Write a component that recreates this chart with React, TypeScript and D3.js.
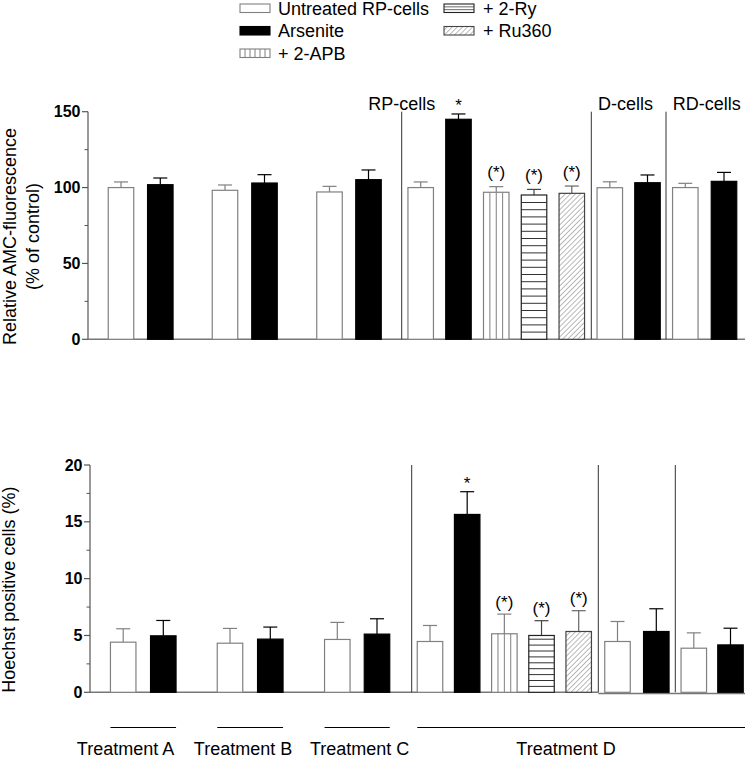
import React from "react";
import * as d3 from "d3";

// ---------- data ----------
const legendLabels = ["Untreated RP-cells", "Arsenite", "+ 2-APB", "+ 2-Ry", "+ Ru360"];
const treatmentKeys = ["untreated", "arsenite", "apb", "ry", "ru360"];
const groupKeys = ["A", "B", "C", "RP", "D", "RD"];
const panelLabels = ["RP-cells", "D-cells", "RD-cells"];
const treatmentLabels = ["Treatment A", "Treatment B", "Treatment C", "Treatment D"];
const treatmentGroups = [["A"], ["B"], ["C"], ["RP", "D", "RD"]];

const barGroups = ["A", "A", "B", "B", "C", "C", "RP", "RP", "RP", "RP", "RP", "D", "D", "RD", "RD"];
const barTreatments = [
  "untreated", "arsenite", "untreated", "arsenite", "untreated", "arsenite",
  "untreated", "arsenite", "apb", "ry", "ru360", "untreated", "arsenite", "untreated", "arsenite",
];
const amcMean = [100, 101.9, 98.2, 103, 97.1, 105.2, 100, 145, 96.9, 95.1, 96.2, 99.9, 103.2, 100, 104.1];
const amcErr = [3.7, 4.4, 3.5, 5.5, 3.7, 6.4, 3.7, 3.5, 3.7, 3.7, 4.8, 3.9, 5.1, 2.8, 5.9];
const hoechstMean = [4.41, 4.97, 4.32, 4.68, 4.65, 5.12, 4.47, 15.65, 5.15, 5.0, 5.35, 4.47, 5.35, 3.88, 4.17];
const hoechstErr = [1.18, 1.35, 1.3, 1.06, 1.5, 1.35, 1.41, 2.0, 1.73, 1.3, 1.83, 1.76, 2.0, 1.35, 1.47];
const sigLabels = ["", "", "", "", "", "", "", "*", "(*)", "(*)", "(*)", "", "", "", ""];

const amcTicks = [0, 50, 100, 150];
const amcMinor = [25, 75, 125];
const hoechstTicks = [0, 5, 10, 15, 20];
const hoechstMinor = [2.5, 7.5, 12.5, 17.5];

// ---------- styles ----------
const FONT = "'Liberation Sans', Arial, Helvetica, sans-serif";
const style: Record<string, { fill: string; stroke: string; err: string }> = {
  untreated: { fill: "#fff", stroke: "#808080", err: "#808080" },
  arsenite: { fill: "#000", stroke: "#000", err: "#000" },
  apb: { fill: "#fff", stroke: "#808080", err: "#808080" },
  ry: { fill: "#fff", stroke: "#222", err: "#444" },
  ru360: { fill: "url(#diag)", stroke: "#444", err: "#666" },
};

type PanelProps = {
  mean: number[];
  err: number[];
  y: d3.ScaleLinear<number, number>;
  ticks: number[];
  minor: number[];
  axisX: number;
  ranges: Record<string, [number, number]>;
  separators: number[];
  barW: number;
  stripe: number;
  baseSplit: number;
  baseRightOffset: number;
  starGap: number;
  parenGap: number;
  title: string[];
  titleX: number[];
};

function groupScale(ranges: Record<string, [number, number]>) {
  const scales: Record<string, d3.ScalePoint<string>> = {};
  groupKeys.forEach((g) => {
    const idx = barGroups.map((bg, i) => (bg === g ? String(i) : null)).filter((v) => v !== null) as string[];
    scales[g] = d3.scalePoint<string>().domain(idx).range(ranges[g]);
  });
  return (i: number) => scales[barGroups[i]](String(i)) as number;
}

function Bar({ x, y0, y1, w, t, stripe }: { x: number; y0: number; y1: number; w: number; t: string; stripe: number }) {
  const s = style[t];
  const h = y0 - y1;
  const inner: React.ReactNode[] = [];
  if (t === "apb") {
    for (let k = 1; k < 4; k++) {
      const xx = x + (w * k) / 4;
      inner.push(<line key={k} x1={xx} x2={xx} y1={y1} y2={y0} stroke="#808080" strokeWidth={1} />);
    }
  }
  if (t === "ry") {
    const n = Math.floor(h / stripe);
    for (let k = 1; k <= n; k++) {
      const yy = y0 - k * stripe;
      if (yy - y1 < 2) continue;
      inner.push(<line key={k} x1={x} x2={x + w} y1={yy} y2={yy} stroke="#333" strokeWidth={1} />);
    }
  }
  return (
    <g>
      <rect x={x} y={y1} width={w} height={h} fill={s.fill} />
      {inner}
      <rect x={x} y={y1} width={w} height={h} fill="none" stroke={s.stroke} strokeWidth={1.2} />
    </g>
  );
}

function Panel(p: PanelProps) {
  const xOf = groupScale(p.ranges);
  const y0 = p.y(0);
  const yMax = p.y(p.ticks[p.ticks.length - 1]);
  return (
    <g>
      {/* y axis */}
      <line x1={p.axisX} x2={p.axisX} y1={yMax} y2={y0} stroke="#555" strokeWidth={1.2} />
      {p.ticks.map((t) => (
        <g key={t}>
          <line x1={p.axisX - 6} x2={p.axisX} y1={p.y(t)} y2={p.y(t)} stroke="#555" strokeWidth={1.2} />
          <text x={p.axisX - 7.5} y={p.y(t) + 5.5} textAnchor="end" fontFamily={FONT} fontWeight="bold" fontSize={16} fill="#000">
            {t}
          </text>
        </g>
      ))}
      {p.minor.map((t) => (
        <line key={t} x1={p.axisX - 3.5} x2={p.axisX} y1={p.y(t)} y2={p.y(t)} stroke="#555" strokeWidth={1} />
      ))}
      {/* baseline */}
      <line x1={p.axisX} x2={p.baseSplit} y1={y0} y2={y0} stroke="#777" strokeWidth={1.4} />
      <line x1={p.baseSplit} x2={745} y1={y0 + p.baseRightOffset} y2={y0 + p.baseRightOffset} stroke="#777" strokeWidth={1.4} />
      {/* separators */}
      {p.separators.map((sx) => (
        <line key={sx} x1={sx} x2={sx} y1={yMax} y2={y0} stroke="#333" strokeWidth={1} />
      ))}
      {/* bars */}
      {p.mean.map((m, i) => {
        const cx = xOf(i);
        const t = barTreatments[i];
        const top = p.y(m);
        const et = p.y(m + p.err[i]);
        const s = style[t];
        const lab = sigLabels[i];
        return (
          <g key={i}>
            <line x1={cx} x2={cx} y1={top} y2={et} stroke={s.err} strokeWidth={1.2} />
            <line x1={cx - 7} x2={cx + 7} y1={et} y2={et} stroke={s.err} strokeWidth={1.2} />
            <Bar x={cx - p.barW / 2} y0={y0} y1={top} w={p.barW} t={t} stripe={p.stripe} />
            {lab && (
              <text
                x={cx}
                y={et - (lab === "*" ? p.starGap : p.parenGap)}
                textAnchor="middle"
                fontFamily={FONT}
                fontSize={17}
                fill="#000"
              >
                {lab}
              </text>
            )}
          </g>
        );
      })}
      {/* titles */}
      {p.title.map((tt, k) => (
        <text
          key={k}
          transform={`translate(${p.titleX[k]},${(yMax + y0) / 2 + 11}) rotate(-90)`}
          textAnchor="middle"
          fontFamily={FONT}
          fontSize={18}
          fill="#000"
        >
          {tt}
        </text>
      ))}
    </g>
  );
}

function Swatch({ x, y, t }: { x: number; y: number; t: string }) {
  const w = 30;
  const h = 8.5;
  const s = style[t];
  const inner: React.ReactNode[] = [];
  if (t === "apb") {
    for (let k = 1; k < 6; k++) {
      inner.push(<line key={k} x1={x + (w * k) / 6} x2={x + (w * k) / 6} y1={y} y2={y + h} stroke="#808080" strokeWidth={1} />);
    }
  }
  if (t === "ry") {
    for (let k = 1; k < 3; k++) {
      inner.push(<line key={k} x1={x} x2={x + w} y1={y + (h * k) / 3} y2={y + (h * k) / 3} stroke="#444" strokeWidth={0.8} />);
    }
  }
  return (
    <g>
      <rect x={x} y={y} width={w} height={h} fill={s.fill} />
      {inner}
      <rect x={x} y={y} width={w} height={h} fill="none" stroke={s.stroke} strokeWidth={1.1} />
    </g>
  );
}

export default function App() {
  const yTop = d3.scaleLinear().domain([0, 150]).range([339.3, 111.7]);
  const yBot = d3.scaleLinear().domain([0, 20]).range([692.3, 465]);

  const topRanges: Record<string, [number, number]> = {
    A: [121, 160.3], B: [225, 264.5], C: [329.5, 368.5],
    RP: [420.7, 571.8], D: [609.8, 647.5], RD: [685.3, 724],
  };
  const botRanges: Record<string, [number, number]> = {
    A: [123.2, 163.3], B: [230, 270.3], C: [337.3, 377],
    RP: [430, 578.7], D: [617.5, 656.3], RD: [693.8, 730.5],
  };
  const botX = groupScale(botRanges);
  const barW = 25.5;

  const legendPos = [
    { x: 240, row: 0 }, { x: 240, row: 1 }, { x: 240, row: 2 },
    { x: 444, row: 0 }, { x: 444, row: 1 },
  ];
  const legendBase = [14.5, 37, 59.5];

  const panelLabelX = [368.3, 598, 672.7];
  const treatmentTextX = [125.5, 243, 359.7, 566];

  return (
    <svg
      width={750}
      height={761}
      viewBox="0 0 750 761"
      style={{ position: "absolute", left: 0, top: 0, background: "#fff" }}
    >
      <defs>
        <pattern id="diag" patternUnits="userSpaceOnUse" width={3.6} height={3.6} patternTransform="rotate(45)">
          <rect width={3.6} height={3.6} fill="#fff" />
          <line x1={0} y1={0} x2={0} y2={3.6} stroke="#666" strokeWidth={0.9} />
        </pattern>
      </defs>
      <rect x={0} y={0} width={750} height={761} fill="#fff" />

      {/* legend */}
      {legendLabels.map((l, i) => {
        const lp = legendPos[i];
        const base = legendBase[lp.row];
        return (
          <g key={l}>
            <Swatch x={lp.x} y={base - 10.5} t={treatmentKeys[i]} />
            <text x={lp.x + (lp.x === 240 ? 38 : 39)} y={base} fontFamily={FONT} fontSize={18} fill="#000">
              {l}
            </text>
          </g>
        );
      })}

      {/* panel labels */}
      {panelLabels.map((l, i) => (
        <text key={l} x={panelLabelX[i]} y={110} fontFamily={FONT} fontSize={18} fill="#000">
          {l}
        </text>
      ))}

      <Panel
        mean={amcMean}
        err={amcErr}
        y={yTop}
        ticks={amcTicks}
        minor={amcMinor}
        axisX={88}
        ranges={topRanges}
        separators={[401.7, 591.3, 666]}
        barW={barW}
        stripe={7.2}
        baseSplit={591.3}
        baseRightOffset={0}
        starGap={2.5}
        parenGap={8.5}
        title={["Relative AMC-fluorescence", "(% of control)"]}
        titleX={[15.5, 38.5]}
      />
      <Panel
        mean={hoechstMean}
        err={hoechstErr}
        y={yBot}
        ticks={hoechstTicks}
        minor={hoechstMinor}
        axisX={90}
        ranges={botRanges}
        separators={[411.7, 598.3, 675.3]}
        barW={barW}
        stripe={5.9}
        baseSplit={598.3}
        baseRightOffset={1.2}
        starGap={2.5}
        parenGap={6.5}
        title={["Hoechst positive cells (%)"]}
        titleX={[15]}
      />

      {/* treatment lines */}
      {treatmentGroups.map((gs, k) => {
        const idx = barGroups.map((g, i) => (gs.includes(g) ? i : -1)).filter((i) => i >= 0);
        const x1 = botX(idx[0]) - barW / 2;
        const x2 = k === 3 ? 745 : botX(idx[idx.length - 1]) + barW / 2;
        return <line key={k} x1={x1} x2={x2} y1={727.5} y2={727.5} stroke="#000" strokeWidth={1} />;
      })}
      {treatmentLabels.map((l, k) => (
        <text key={l} x={treatmentTextX[k]} y={755} textAnchor="middle" fontFamily={FONT} fontSize={18} fill="#000">
          {l}
        </text>
      ))}
    </svg>
  );
}
